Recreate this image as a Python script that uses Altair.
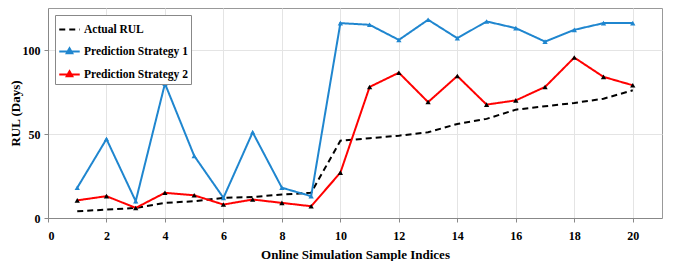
import altair as alt
import pandas as pd

x_idx = list(range(1, 21))
series_names = ["Actual RUL", "Prediction Strategy 1", "Prediction Strategy 2"]
actual = [4, 5, 6, 9, 10, 12, 12.5, 14, 15, 46, 47.5, 49, 51, 56, 59, 64.5, 66.5, 68.5, 71, 76]
strategy1 = [18, 47, 10, 80, 37, 12, 51, 18, 13, 116, 115, 106, 118, 107, 117, 113, 105, 112, 116, 116]
strategy2 = [10.5, 13, 6, 15, 13.5, 8, 11, 9, 7, 27, 78, 86.5, 69, 84.5, 67.5, 70, 78, 95.5, 84, 79]
x_ticks = list(range(0, 21, 2))
y_ticks = [0, 50, 100]

line_colors = ["black", "#1f86cf", "red"]
marker_fills = ["black", "#1f86cf", "black"]
TRI_PATH = "M-1,0H1M0,-0.32L0.27,0.16L-0.27,0.16Z"

rows = []
for name, vals in zip(series_names, [actual, strategy1, strategy2]):
    for xi, v in zip(x_idx, vals):
        rows.append({"idx": xi, "rul": v, "series": name})
df = pd.DataFrame(rows)

FONT = "Liberation Serif"
xscale = alt.Scale(domain=[0, 21], nice=False, zero=False)
yscale = alt.Scale(domain=[0, 125], nice=False)

X = alt.X("idx:Q", scale=xscale,
          axis=alt.Axis(values=x_ticks, title="Online Simulation Sample Indices",
                        titlePadding=7, labelPadding=8))
Y = alt.Y("rul:Q", scale=yscale,
          axis=alt.Axis(values=y_ticks, title="RUL (Days)", titlePadding=0, labelPadding=4))

shape_sig = "datum.value === '%s' ? 'stroke' : '%s'" % (series_names[0], TRI_PATH)
fill_sig = "datum.value === '%s' ? '%s' : '%s'" % (series_names[1], marker_fills[1], marker_fills[2])

legend = alt.Legend(
    title=None, orient="top-left", offset=7,
    fillColor="white", strokeColor="#888888", padding=3,
    labelFont=FONT, labelFontWeight="bold", labelFontSize=11.5,
    labelColor="black", symbolSize=420, symbolStrokeWidth=2,
    symbolOpacity=1, rowPadding=5, labelOffset=3,
    symbolType={"expr": shape_sig},
    symbolFillColor={"expr": fill_sig},
)

base = alt.Chart(df)

lines = base.mark_line(strokeWidth=2).encode(
    x=X, y=Y,
    stroke=alt.Stroke("series:N", scale=alt.Scale(domain=series_names, range=line_colors),
                      legend=legend),
    strokeDash=alt.StrokeDash("series:N", scale=alt.Scale(domain=series_names,
                              range=[[6, 4], [1, 0], [1, 0]]), legend=None),
)

pts1 = base.transform_filter(alt.datum.series == series_names[1]).mark_point(
    shape="triangle-up", filled=True, size=28, opacity=1, color=marker_fills[1]
).encode(x=X, y=Y)

pts2 = base.transform_filter(alt.datum.series == series_names[2]).mark_point(
    shape="triangle-up", filled=True, size=28, opacity=1, color=marker_fills[2]
).encode(x=X, y=Y)

chart = alt.layer(lines, pts1, pts2).properties(
    width=614, height=210,
    autosize=alt.AutoSizeParams(type="none"),
    padding={"left": 40, "top": 0, "right": 3, "bottom": 43},
).configure_view(stroke="#999999", strokeWidth=1).configure_axis(
    labelFont=FONT, labelFontWeight="bold", labelFontSize=12, labelColor="black",
    titleFont=FONT, titleFontWeight="bold", titleFontSize=13, titleColor="black",
    gridColor="#e4e4e4", domainColor="#888888", tickColor="#888888", tickSize=4,
)

chart.save("out.html", embed_options={"renderer": "svg", "actions": False})
